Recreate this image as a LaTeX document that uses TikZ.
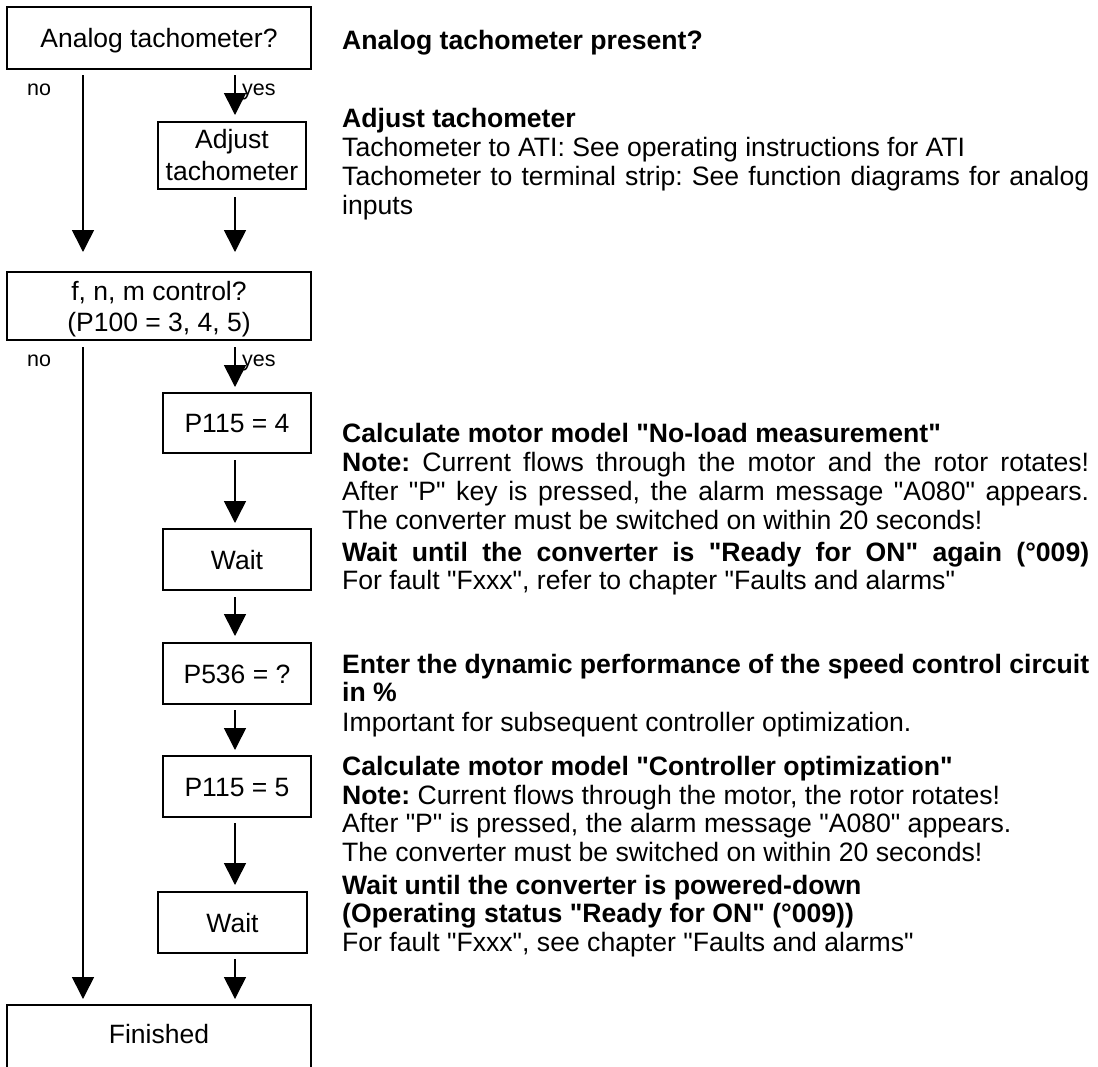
\documentclass[tikz,border=0pt]{standalone}
\usepackage{fontspec}
\newfontfamily\lsans{Liberation Sans}
\frenchspacing
\usetikzlibrary{arrows.meta}
\newcommand\jline[1]{\makebox[747pt][s]{#1}}
\begin{document}
\frenchspacing
\begin{tikzpicture}[x=1pt,y=-1pt,
  box/.style={draw, line width=1.6pt, inner sep=0pt, outer sep=0pt, font=\lsans\fontsize{26.5}{31}\selectfont, align=center},
  one/.style={text height=19pt, text depth=0pt},
  arr/.style={line width=1.6pt, -{Triangle[width=22pt,length=22pt]}},
  lbl/.style={font=\lsans\fontsize{21.5}{25}\selectfont, inner sep=0pt, anchor=base west},
  txt/.style={font=\lsans\fontsize{26.6}{31}\selectfont, inner sep=0pt, anchor=base west},
  btxt/.style={txt, font=\lsans\fontsize{26.6}{31}\selectfont\bfseries},
]
\useasboundingbox (0,0) rectangle (1098,1066);
\fill[white] (0,0) rectangle (1098,1066);

% column coordinates
\coordinate (cL) at (83,0);
\coordinate (cR) at (235,0);

% boxes
\node[box, one, minimum width=304pt, minimum height=62pt] (q1) at (159,38) {Analog tachometer?};
\node[box, minimum width=148pt, minimum height=67pt, font=\lsans\fontsize{26.5}{32}\selectfont] (adj) at (232,155.5) {Adjust\\tachometer};
\node[box, minimum width=304pt, minimum height=68pt] (fnm) at (159,306) {f, n, m control?\\\smash{(P100 = 3, 4, 5)}};
\node[box, one, minimum width=148pt, minimum height=60pt] (p4) at (237,423) {P115 = 4};
\node[box, one, minimum width=148pt, minimum height=61pt] (w1) at (237,559.5) {Wait};
\node[box, one, minimum width=148pt, minimum height=61pt] (p536) at (237,673.5) {P536 = ?};
\node[box, one, minimum width=148pt, minimum height=61pt] (p5) at (237,786.5) {P115 = 5};
\node[box, one, minimum width=149pt, minimum height=61pt] (w2) at (232.5,922.5) {Wait};
\node[box, text height=19pt, text depth=6pt, minimum width=304pt, minimum height=64pt] (fin) at (159,1037) {Finished};

% labels
\node[lbl] (no1) at (27,95) {no};
\node[lbl] (yes1) at (242,95) {yes};
\node[lbl] (no2) at (27,366) {no};
\node[lbl] (yes2) at (242,366) {yes};

% connectors
\draw[arr, shorten <=6pt, shorten >=20pt] (q1.south -| cL) -- (fnm.north -| cL);
\draw[arr, shorten <=6pt, shorten >=7pt] (q1.south -| cR) -- (adj.north -| cR);
\draw[arr, shorten <=8pt, shorten >=20pt] (adj.south -| cR) -- (fnm.north -| cR);
\draw[arr, shorten <=7pt, shorten >=6pt] (fnm.south -| cL) -- (fin.north -| cL);
\draw[arr, shorten <=7pt, shorten >=6pt] (fnm.south -| cR) -- (p4.north -| cR);
\draw[arr, shorten <=7pt, shorten >=6pt] (p4.south -| cR) -- (w1.north -| cR);
\draw[arr, shorten <=7pt, shorten >=7pt] (w1.south -| cR) -- (p536.north -| cR);
\draw[arr, shorten <=6pt, shorten >=6pt] (p536.south -| cR) -- (p5.north -| cR);
\draw[arr, shorten <=6pt, shorten >=7pt] (p5.south -| cR) -- (w2.north -| cR);
\draw[arr, shorten <=6pt, shorten >=6pt] (w2.south -| cR) -- (fin.north -| cR);

% descriptions
\node[btxt] (a1) at (342,49) {Analog tachometer present?};
\node[btxt] (b1) at (342,127.5) {Adjust tachometer};
\node[txt] (b2) at (342,156.5) {Tachometer to ATI: See operating instructions for ATI};
\node[txt] (b3) at (342,185.5) {\jline{Tachometer to terminal strip: See function diagrams for analog}};
\node[txt] (b4) at (342,214.5) {inputs};
\node[btxt] (c1) at (342,442.5) {Calculate motor model "No-load measurement"};
\node[txt] (c2) at (342,471.5) {\jline{\textbf{Note:} Current flows through the motor and the rotor rotates!}};
\node[txt] (c3) at (342,500.5) {\jline{After "P" key is pressed, the alarm message "A080" appears.}};
\node[txt] (c4) at (342,529.5) {The converter must be switched on within 20 seconds!};
\node[btxt] (d1) at (342,561.5) {\jline{Wait until the converter is "Ready for ON" again (°009)}};
\node[txt] (d2) at (342,589.5) {For fault "Fxxx", refer to chapter "Faults and alarms"};
\node[btxt] (e1) at (342,673.5) {\jline{Enter the dynamic performance of the speed control circuit}};
\node[btxt] (e2) at (342,701.5) {in \%};
\node[txt] (e3) at (342,731.5) {Important for subsequent controller optimization.};
\node[btxt] (f1) at (342,775.5) {Calculate motor model "Controller optimization"};
\node[txt] (f2) at (342,804.5) {\textbf{Note:} Current flows through the motor, the rotor rotates!};
\node[txt] (f3) at (342,832.5) {After "P" is pressed, the alarm message "A080" appears.};
\node[txt] (f4) at (342,861.5) {The converter must be switched on within 20 seconds!};
\node[btxt] (g1) at (342,894.5) {Wait until the converter is powered-down};
\node[btxt] (g2) at (342,922.5) {(Operating status "Ready for ON" (°009))};
\node[txt] (g3) at (342,951.5) {For fault "Fxxx", see chapter "Faults and alarms"};
\end{tikzpicture}
\end{document}
